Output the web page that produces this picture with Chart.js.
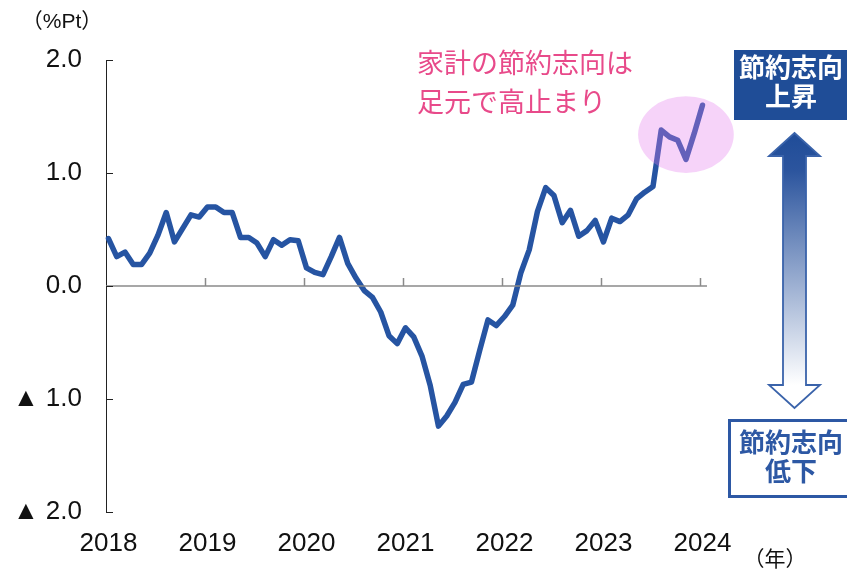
<!DOCTYPE html>
<html><head><meta charset="utf-8">
<script src="https://cdn.jsdelivr.net/npm/chart.js@4/dist/chart.umd.min.js"></script>
<style>html,body{margin:0;padding:0;background:#fff;}canvas{display:block;}</style>
</head><body>
<canvas id="c" width="847" height="572"></canvas>
<script>
// ---- data ----
const categories = [];
for (let y = 2018; y <= 2024; y++) for (let m = 1; m <= 12; m++) { if (y === 2024 && m > 1) break; categories.push(y + '/' + String(m).padStart(2, '0')); }
const values = [
  0.42, 0.26, 0.30, 0.19, 0.19, 0.29, 0.45, 0.65, 0.39, 0.51, 0.63, 0.61,
  0.70, 0.70, 0.65, 0.65, 0.43, 0.43, 0.38, 0.26, 0.41, 0.36, 0.41, 0.40,
  0.16, 0.12, 0.10, 0.26, 0.43, 0.20, 0.07, -0.04, -0.10, -0.23, -0.44, -0.51,
  -0.37, -0.45, -0.62, -0.88, -1.24, -1.15, -1.03, -0.87, -0.85, -0.57, -0.30, -0.35,
  -0.27, -0.17, 0.12, 0.32, 0.66, 0.87, 0.80, 0.56, 0.67, 0.44, 0.49, 0.58,
  0.39, 0.60, 0.57, 0.63, 0.77, 0.83, 0.88, 1.38, 1.32, 1.29, 1.12, 1.35,
  1.60
];
const xTickValues = [0, 12, 24, 36, 48, 60, 72];
const xTickLabels = ['2018', '2019', '2020', '2021', '2022', '2023', '2024'];
const yTickValues = [-2, -1, 0, 1, 2];
const yTickLabels = ['▲ 2.0', '▲ 1.0', '0.0', '1.0', '2.0'];

const LATIN = '"Liberation Sans", Arial, "DejaVu Sans", sans-serif';
const CJK = '"Noto Sans CJK JP", "Noto Sans CJK SC", sans-serif';
const LINE_COLOR = '#2654a2';

const overlay = {
  id: 'overlay',
  afterDraw(chart) {
    const ctx = chart.ctx;
    const xs = chart.scales.x, ys = chart.scales.y;
    const y0 = ys.getPixelForValue(0);
    ctx.save();
    ctx.strokeStyle = '#8a8a8a';
    ctx.lineWidth = 1.5;
    ctx.beginPath();
    ctx.moveTo(chart.chartArea.left, y0);
    ctx.lineTo(chart.chartArea.right, y0);
    ctx.stroke();
    xTickValues.slice(1).forEach(v => {
      const px = Math.round(xs.getPixelForValue(v - 0.3)) + 0.5;
      ctx.beginPath(); ctx.moveTo(px, y0); ctx.lineTo(px, y0 - 8); ctx.stroke();
    });
    ctx.strokeStyle = '#222'; ctx.lineWidth = 1;
    yTickValues.forEach(v => {
      const py = Math.round(ys.getPixelForValue(v)) + 0.5;
      ctx.beginPath(); ctx.moveTo(chart.chartArea.left, py); ctx.lineTo(chart.chartArea.left + 7, py); ctx.stroke();
    });
    ctx.restore();
  },
  afterDatasetsDraw(chart) {
    const ctx = chart.ctx;
    const xs = chart.scales.x, ys = chart.scales.y;
    const cx = xs.getPixelForValue(70), cy = ys.getPixelForValue(1.34);
    const rx = Math.abs(xs.getPixelForValue(75.8) - cx), ry = Math.abs(ys.getPixelForValue(1.68) - cy);
    ctx.save();
    ctx.fillStyle = 'rgba(228,120,236,0.33)';
    ctx.beginPath(); ctx.ellipse(cx, cy, rx, ry, 0, 0, Math.PI * 2); ctx.fill();
    ctx.restore();
  }
};

const decor = {
  id: 'decor',
  afterDraw(chart) {
    const ctx = chart.ctx;
    ctx.save();
    ctx.fillStyle = '#111';
    ctx.font = '21px "Liberation Sans", Arial, ' + CJK;
    ctx.textAlign = 'center'; ctx.textBaseline = 'middle';
    ctx.fillText('（%Pt）', 62, 22);
    ctx.fillText('（年）', 775, 560);
    ctx.fillStyle = '#e84a8a';
    ctx.font = '27px ' + CJK;
    ctx.textAlign = 'left';
    ctx.fillText('家計の節約志向は', 417, 63);
    ctx.fillText('足元で高止まり', 417, 102);
    ctx.fillStyle = '#1f4d97';
    ctx.fillRect(734, 50, 120, 70);
    ctx.fillStyle = '#fff';
    ctx.font = 'bold 26px ' + CJK;
    ctx.textAlign = 'center';
    ctx.fillText('節約志向', 791, 67);
    ctx.fillText('上昇', 791, 96);
    ctx.strokeStyle = '#2d58a4'; ctx.lineWidth = 3;
    ctx.strokeRect(729.5, 420.5, 130, 76);
    ctx.fillStyle = '#2d58a4';
    ctx.fillText('節約志向', 791, 442);
    ctx.fillText('低下', 791, 471);
    const cx = 794.5, top = 133, bot = 408, hb1 = 156, hb2 = 385, hw = 25.5, sw = 11.5;
    const g = ctx.createLinearGradient(0, top, 0, hb2);
    g.addColorStop(0, '#1f4c98'); g.addColorStop(0.15, '#2c559e'); g.addColorStop(1, '#ffffff');
    ctx.beginPath();
    ctx.moveTo(cx, top);
    ctx.lineTo(cx + hw, hb1); ctx.lineTo(cx + sw, hb1); ctx.lineTo(cx + sw, hb2);
    ctx.lineTo(cx + hw, hb2); ctx.lineTo(cx, bot); ctx.lineTo(cx - hw, hb2);
    ctx.lineTo(cx - sw, hb2); ctx.lineTo(cx - sw, hb1); ctx.lineTo(cx - hw, hb1);
    ctx.closePath();
    ctx.fillStyle = g; ctx.fill();
    ctx.strokeStyle = '#3a63aa'; ctx.lineWidth = 1.8; ctx.stroke();
    ctx.restore();
  }
};

new Chart(document.getElementById('c'), {
  type: 'line',
  data: {
    labels: categories,
    datasets: [{
      data: values.map((v, i) => ({ x: i, y: v })),
      borderColor: LINE_COLOR,
      borderWidth: 5.5,
      pointRadius: 0,
      tension: 0,
      borderJoinStyle: 'round',
      borderCapStyle: 'round',
      clip: false
    }]
  },
  options: {
    responsive: false,
    animation: false,
    devicePixelRatio: 1,
    layout: { padding: { left: 0, right: 140, top: 60, bottom: 0 } },
    plugins: { legend: { display: false }, tooltip: { enabled: false } },
    scales: {
      x: {
        type: 'linear', min: -0.3, max: 72.55,
        grid: { display: false, drawTicks: false },
        border: { display: false },
        afterBuildTicks: s => { s.ticks = xTickValues.map(v => ({ value: v })); },
        afterFit: s => { s.height = 60; },
        ticks: {
          autoSkip: false, maxRotation: 0, padding: 16, color: '#111',
          font: { family: LATIN, size: 26 },
          callback: v => xTickLabels[xTickValues.indexOf(v)]
        }
      },
      y: {
        min: -2, max: 2,
        grid: { display: false, drawTicks: false },
        border: { display: true, color: '#222', width: 1 },
        afterBuildTicks: s => { s.ticks = yTickValues.map(v => ({ value: v })); },
        afterFit: s => { s.width = 106; },
        ticks: {
          padding: 24, color: '#111',
          font: { family: LATIN, size: 26 },
          callback: v => yTickLabels[yTickValues.indexOf(v)]
        }
      }
    }
  },
  plugins: [overlay, decor]
});
</script>
</body></html>
